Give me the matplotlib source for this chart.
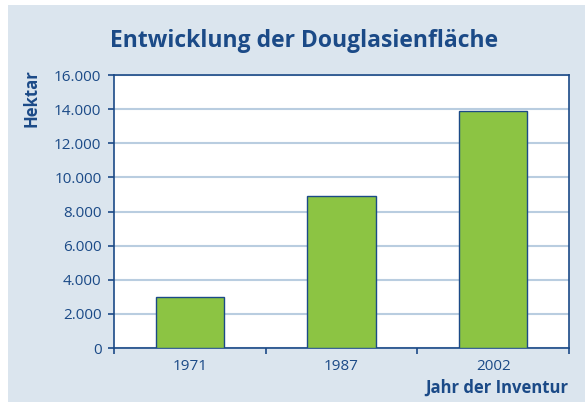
import matplotlib.pyplot as plt
from matplotlib.patches import Rectangle
import numpy as np

plt.rcParams['font.family'] = ['Open Sans', 'DejaVu Sans']

# Daten
jahre = ['1971', '1987', '2002']
flaeche = [3000, 8900, 13900]
y_ticks = [0, 2000, 4000, 6000, 8000, 10000, 12000, 14000, 16000]
y_labels = ['0', '2.000', '4.000', '6.000', '8.000', '10.000', '12.000', '14.000', '16.000']

dunkelblau = '#1b4a87'
gruen = '#8cc443'
gitter = '#b9cde0'
panel = '#dbe5ee'

fig = plt.figure(figsize=(5.85, 4.03), dpi=100)
fig.patch.set_facecolor('white')
fig.add_artist(Rectangle((8 / 585, 1 / 403), 1, 397 / 403, transform=fig.transFigure,
                         facecolor=panel, edgecolor='none', zorder=-10))

ax = fig.add_axes([114 / 585, 1 - 348 / 403, 455 / 585, 273 / 403])
ax.set_facecolor('white')

x = np.arange(len(jahre))
ax.bar(x, flaeche, width=0.45, color=gruen, edgecolor=dunkelblau, linewidth=1.0, zorder=3)

ax.set_xlim(-0.5, len(jahre) - 0.5)
ax.set_ylim(0, 16000)
ax.set_yticks(y_ticks)
ax.set_yticklabels(y_labels)
ax.yaxis.grid(True, color=gitter, linewidth=1.5, zorder=1)
ax.set_axisbelow(True)

# x-Ticks an Kategoriegrenzen, Beschriftung mittig
ax.set_xticks(np.arange(len(jahre) + 1) - 0.5)
ax.set_xticklabels([])
ax.set_xticks(x, minor=True)
ax.set_xticklabels(jahre, minor=True)
ax.tick_params(axis='x', which='major', length=4.5, width=1.2, color=dunkelblau, direction='out')
ax.tick_params(axis='x', which='minor', length=0, pad=8, labelsize=11, labelcolor=dunkelblau)
ax.tick_params(axis='y', length=4.5, width=1.2, color=dunkelblau, labelsize=11,
               labelcolor=dunkelblau, pad=4.5)

for s in ax.spines.values():
    s.set_color(dunkelblau)
    s.set_linewidth(1.2)

fig.text(304 / 585, 1 - 47 / 403, 'Entwicklung der Douglasienfläche', ha='center', va='baseline',
         fontsize=16.5, fontweight='bold', color=dunkelblau)
fig.text(31 / 585, 1 - 98.5 / 403, 'Hektar', rotation=90, ha='center', va='center',
         fontsize=12, fontweight='bold', color=dunkelblau)
fig.text(568 / 585, 1 - 392.5 / 403, 'Jahr der Inventur', ha='right', va='baseline',
         fontsize=12, fontweight='bold', color=dunkelblau)

fig.savefig('out.png', dpi=100, facecolor=fig.get_facecolor())
